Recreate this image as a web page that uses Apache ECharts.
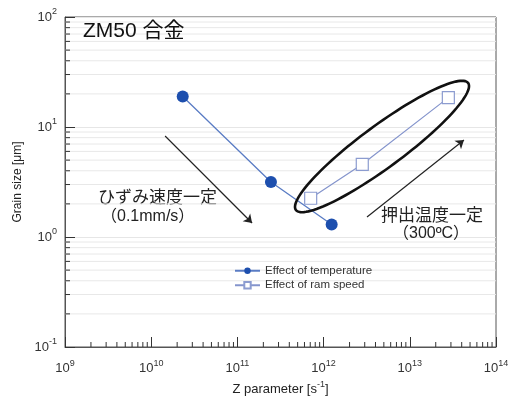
<!DOCTYPE html>
<html>
<head>
<meta charset="utf-8">
<script src="https://cdn.jsdelivr.net/npm/echarts@6/dist/echarts.min.js"></script>
<style>
  html, body { margin: 0; padding: 0; background: #fff; }
  #chart { width: 510px; height: 396px; }
</style>
</head>
<body>
<div id="chart"></div>
<script>
const FONT = "'Liberation Sans', Arial, 'Noto Sans CJK JP', sans-serif";

// data
const tempZ = [2.32e10, 2.45e11, 1.24e12];
const tempSize = [18.9, 3.16, 1.30];
const ramZ = [7.08e11, 2.81e12, 2.80e13];
const ramSize = [2.25, 4.58, 18.5];

const seriesNames = ["Effect of temperature", "Effect of ram speed"];

// arrows (data coords)
const arrowLeft = [[1.45e10, 8.28], [1.48e11, 1.34]];
const arrowRight = [[3.19e12, 1.52], [4.25e13, 7.62]];

// minor ticks (2..9 per decade)
const xMinor = [];
for (let e = 9; e < 14; e++) for (let m = 2; m <= 9; m++) xMinor.push(m * Math.pow(10, e));
const yMinor = [];
for (let e = -1; e < 2; e++) for (let m = 2; m <= 9; m++) yMinor.push(+(m * Math.pow(10, e)).toPrecision(3));

let chart = echarts.init(document.getElementById("chart"));

function powLabel(v) {
    let e = Math.round(Math.log10(v));
    return "10{s|" + e + "}";
}

const supRich = {
    s: { fontSize: 9, fontFamily: FONT, color: "#333", padding: [0, 0, 10, 0] }
};

let option = {
    animation: false,
    title: {
        text: "ZM50 合金",
        left: 78,
        top: 16,
        textStyle: { fontSize: 21, fontWeight: "normal", color: "#111", fontFamily: FONT }
    },
    legend: {
        data: seriesNames,
        orient: "vertical",
        left: 229,
        top: 260,
        itemGap: 3,
        itemWidth: 25,
        itemHeight: 8,
        textStyle: { fontSize: 11.5, color: "#333", fontFamily: FONT }
    },
    grid: {
        left: 65, right: 14, top: 17, bottom: 49,
        outerBoundsMode: "none",
        containLabel: false,
        show: true, borderColor: "#555", borderWidth: 1
    },
    xAxis: {
        type: "log",
        logBase: 10,
        min: 1e9,
        max: 1e14,
        name: "Z parameter [s{s|-1}]",
        nameLocation: "middle",
        nameGap: 28,
        nameTextStyle: { fontSize: 13, color: "#222", fontFamily: FONT, rich: supRich },
        axisLine: { lineStyle: { color: "#555" } },
        axisTick: { inside: true, length: 10, lineStyle: { color: "#333" } },
        axisLabel: {
            margin: 12,
            formatter: powLabel,
            fontSize: 13, color: "#333", fontFamily: FONT,
            rich: supRich
        },
        splitLine: { show: false }
    },
    yAxis: {
        type: "log",
        logBase: 10,
        min: 0.1,
        max: 100,
        name: "Grain size [μm]",
        nameLocation: "middle",
        nameGap: 41,
        nameTextStyle: { fontSize: 12, color: "#222", fontFamily: FONT },
        axisLine: { lineStyle: { color: "#555" } },
        axisTick: { inside: true, length: 10, lineStyle: { color: "#333" } },
        axisLabel: {
            margin: 8,
            formatter: powLabel,
            fontSize: 13, color: "#333", fontFamily: FONT,
            rich: supRich
        },
        splitLine: { show: true, lineStyle: { color: "#e6e6e6" } }
    },
    series: [
        {
            type: "custom",
            name: "yminor",
            z: 1,
            silent: true,
            data: yMinor.map(v => [1e9, v]),
            renderItem: function (params, api) {
                let p = api.coord([1e9, api.value(1)]);
                let q = api.coord([1e14, api.value(1)]);
                return {
                    type: "group",
                    children: [
                        { type: "line", shape: { x1: p[0], y1: p[1], x2: q[0], y2: q[1] }, style: { stroke: "#e8e8e8", lineWidth: 1 } },
                        { type: "line", shape: { x1: p[0], y1: p[1], x2: p[0] + 5, y2: p[1] }, style: { stroke: "#333", lineWidth: 1 } }
                    ]
                };
            }
        },
        {
            type: "custom",
            name: "xminor",
            z: 1,
            silent: true,
            data: xMinor.map(v => [v, 0.1]),
            renderItem: function (params, api) {
                let p = api.coord([api.value(0), 0.1]);
                return { type: "line", shape: { x1: p[0], y1: p[1], x2: p[0], y2: p[1] - 5 }, style: { stroke: "#333", lineWidth: 1 } };
            }
        },
        {
            name: seriesNames[0],
            type: "line",
            data: tempZ.map((z, i) => [z, tempSize[i]]),
            symbol: "circle",
            symbolSize: 12,
            itemStyle: { color: "#1d4fae" },
            lineStyle: { color: "#5a7cc4", width: 1.3 },
            z: 3,
            markLine: {
                silent: true,
                symbol: ["none", "arrow"],
                symbolSize: 8,
                label: { show: false },
                lineStyle: { color: "#222", width: 1.2, type: "solid" },
                data: [
                    [{ coord: arrowLeft[0] }, { coord: arrowLeft[1] }],
                    [{ coord: arrowRight[0] }, { coord: arrowRight[1] }]
                ]
            }
        },
        {
            name: seriesNames[1],
            type: "line",
            data: ramZ.map((z, i) => [z, ramSize[i]]),
            symbol: "rect",
            symbolSize: 12,
            itemStyle: { color: "#fff", borderColor: "#8c9cd0", borderWidth: 1.2 },
            lineStyle: { color: "#8494cc", width: 1.2 },
            z: 4
        }
    ]
};
chart.setOption(option);

// ellipse round the ram-speed points
let c = chart.convertToPixel({ gridIndex: 0 }, [4.76e12, 6.65]);
let a = 107, b = 21, ang = -36.4 * Math.PI / 180;
let pts = [];
for (let i = 0; i < 120; i++) {
    let t = i / 120 * Math.PI * 2;
    let ex = a * Math.cos(t), ey = b * Math.sin(t);
    pts.push([c[0] + ex * Math.cos(ang) - ey * Math.sin(ang), c[1] + ex * Math.sin(ang) + ey * Math.cos(ang)]);
}

chart.setOption({
    graphic: [
        {
            type: "polygon",
            shape: { points: pts },
            style: { fill: "none", stroke: "#111", lineWidth: 2.6 },
            z: 5, silent: true
        },
        {
            type: "text", left: 98, top: 190,
            style: { text: "ひずみ速度一定", fontSize: 17, fill: "#222", fontFamily: FONT }
        },
        {
            type: "text", left: 101, top: 209,
            style: { text: "（0.1mm/s）", fontSize: 16, fill: "#222", fontFamily: FONT }
        },
        {
            type: "text", left: 381, top: 208,
            style: { text: "押出温度一定", fontSize: 17, fill: "#222", fontFamily: FONT }
        },
        {
            type: "text", left: 393, top: 226,
            style: { text: "（300ºC）", fontSize: 16, fill: "#222", fontFamily: FONT }
        }
    ]
});
</script>
</body>
</html>
